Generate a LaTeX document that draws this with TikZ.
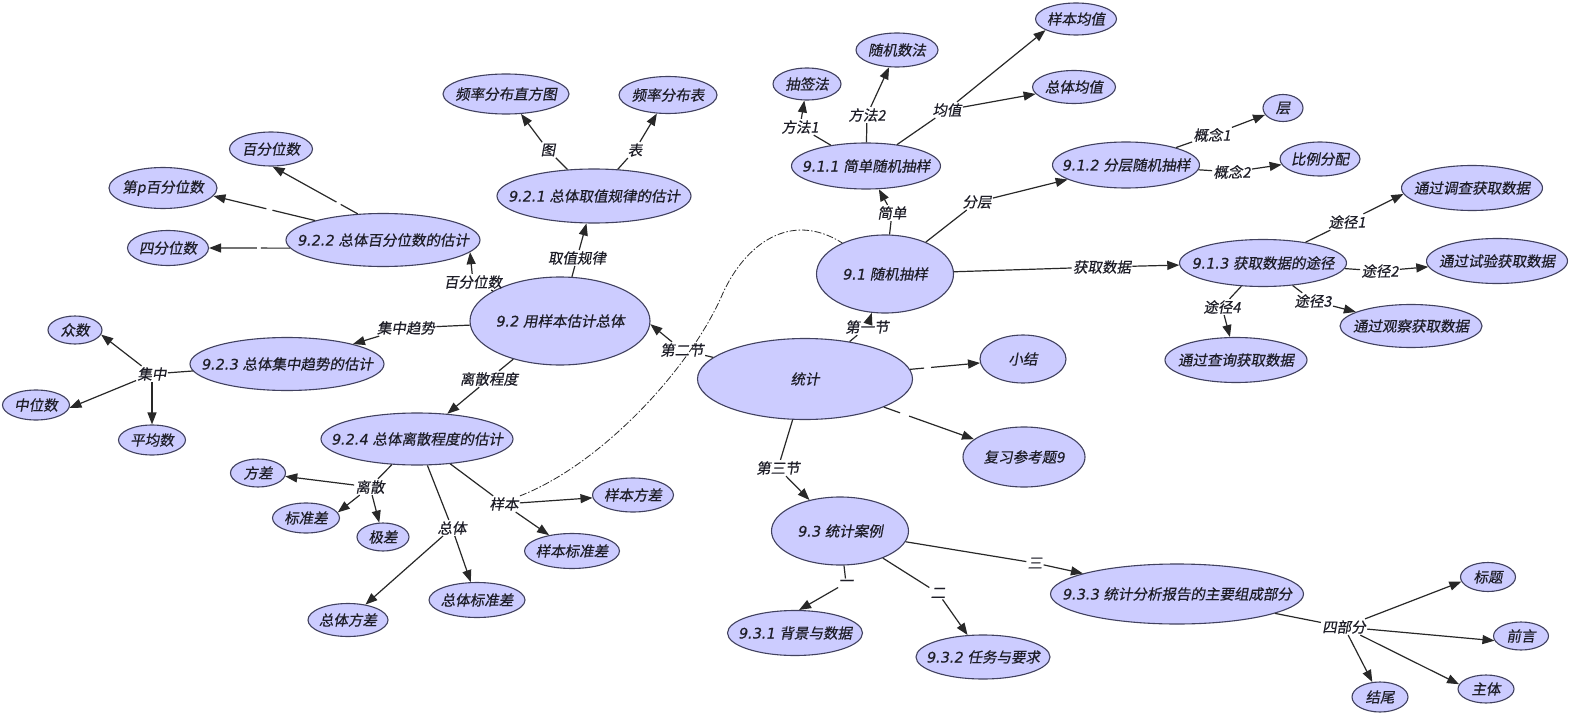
\documentclass[tikz,border=0pt]{standalone}
\usepackage{fontspec}
\setmainfont{Noto Sans CJK SC}[FakeSlant=0.18,FakeBold=0.5]
\newfontfamily\lfont{DejaVu Sans}[FakeSlant=0.18,FakeBold=0.5]
\usetikzlibrary{shapes.geometric,arrows.meta}
\definecolor{nodefill}{RGB}{204,204,255}
\definecolor{nodedraw}{RGB}{65,65,95}
\definecolor{linec}{RGB}{40,40,40}
\definecolor{txtc}{RGB}{30,30,40}
\newcommand\pre[1]{{\lfont #1}}
\tikzset{
 cn/.style={ellipse, draw=nodedraw, fill=nodefill, line width=1.1pt, inner sep=0pt, text=txtc, font=\fontsize{14.5}{17}\selectfont},
 lbl/.style={inner sep=1.2pt, text=txtc, font=\fontsize{14.5}{17}\selectfont},
 ln/.style={draw=linec, line width=1.2pt},
 ar/.style={ln, -{Triangle[length=12pt,width=9pt]}},
 xlink/.style={draw=linec, line width=0.8pt, dash pattern=on 7pt off 2pt on 1.5pt off 2pt},
}
\newcommand\cnode[6]{\node[cn, minimum width=#4pt, minimum height=#5pt] (#1) at (#2,#3) {\makebox[0pt]{#6}};}
\newcommand\lnode[4]{\node[lbl] (#1) at (#2,#3) {#4};}
\begin{document}
\begin{tikzpicture}[x=1pt,y=-1pt]
\fill[white] (0,0) rectangle (1571,714);
\useasboundingbox (0,0) rectangle (1571,714);

% ---------- concept nodes ----------
\cnode{zft}{506}{94}{126}{40}{频率分布直方图}
\cnode{fbb}{668}{95}{98}{37}{频率分布表}
\cnode{n921}{594}{196}{194}{54}{\pre{9.2.1 }总体取值规律的估计}
\cnode{bfw}{271}{149}{83}{34}{百分位数}
\cnode{dip}{163}{188}{108}{41}{第p百分位数}
\cnode{sfw}{168}{248}{81}{35}{四分位数}
\cnode{n922}{383}{240}{194}{53}{\pre{9.2.2 }总体百分位数的估计}
\cnode{n92}{560}{321}{180}{88}{\pre{9.2 }用样本估计总体}
\cnode{zs}{75}{330}{54}{28}{众数}
\cnode{zws}{36}{405}{67}{30}{中位数}
\cnode{pjs}{152}{440}{67}{30}{平均数}
\cnode{n923}{287}{364}{194}{53}{\pre{9.2.3 }总体集中趋势的估计}
\cnode{n924}{417}{439}{192}{52}{\pre{9.2.4 }总体离散程度的估计}
\cnode{fc}{258}{473}{55}{28}{方差}
\cnode{bzc}{306}{518}{67}{30}{标准差}
\cnode{jc}{383}{537}{52}{28}{极差}
\cnode{ztfc}{348}{620}{80}{33}{总体方差}
\cnode{ztbz}{477}{600}{96}{35}{总体标准差}
\cnode{ybfc}{633}{495}{81}{34}{样本方差}
\cnode{ybbz}{572}{551}{95}{35}{样本标准差}
\cnode{ybjz}{1076}{19}{81}{32}{样本均值}
\cnode{sjs}{897}{50}{82}{34}{随机数法}
\cnode{cqf}{807}{84}{68}{32}{抽签法}
\cnode{ztjz}{1074}{87}{83}{33}{总体均值}
\cnode{n911}{866}{166}{149}{46}{\pre{9.1.1 }简单随机抽样}
\cnode{n912}{1126}{165}{147}{46}{\pre{9.1.2 }分层随机抽样}
\cnode{n91}{885}{274}{137}{78}{\pre{9.1 }随机抽样}
\cnode{ceng}{1283}{108}{40}{27}{层}
\cnode{blfp}{1320}{159}{80}{34}{比例分配}
\cnode{dc}{1472}{188}{141}{45}{通过调查获取数据}
\cnode{sy}{1497}{261}{141}{45}{通过试验获取数据}
\cnode{n913}{1263}{263}{167}{47}{\pre{9.1.3 }获取数据的途径}
\cnode{gc}{1411}{326}{142}{43}{通过观察获取数据}
\cnode{cx}{1236}{360}{142}{45}{通过查询获取数据}
\cnode{tj}{805}{379}{215}{81}{统计}
\cnode{xj}{1023}{359}{86}{48}{小结}
\cnode{fx}{1024}{457}{122}{60}{复习参考题9}
\cnode{n93}{840}{531}{137}{68}{\pre{9.3 }统计案例}
\cnode{n931}{795}{633}{135}{45}{\pre{9.3.1 }背景与数据}
\cnode{n932}{983}{657}{134}{44}{\pre{9.3.2 }任务与要求}
\cnode{n933}{1177}{594}{253}{60}{\pre{9.3.3 }统计分析报告的主要组成部分}
\cnode{bt}{1488}{577}{55}{29}{标题}
\cnode{qy}{1521}{636}{55}{28}{前言}
\cnode{zt}{1486}{689}{56}{28}{主体}
\cnode{jw}{1380}{697}{56}{30}{结尾}

% ---------- link labels ----------
\lnode{lt}{548}{150}{图}
\lnode{lb}{635}{150}{表}
\lnode{lqz}{577}{258}{取值规律}
\lnode{lbf}{473}{282}{百分位数}
\lnode{ljq}{406}{328}{集中趋势}
\lnode{llsc}{489}{379}{离散程度}
\lnode{ldej}{682}{350}{第二节}
\lnode{ljz}{152}{374}{集中}
\lnode{lls}{370}{487}{离散}
\lnode{lzt}{452}{528}{总体}
\lnode{lyb}{504}{504}{样本}
\lnode{lff1}{800}{127}{方法1}
\lnode{lff2}{867}{115}{方法2}
\lnode{ljzv}{947}{110}{均值}
\lnode{ljd}{892}{213}{简单}
\lnode{lfc}{977}{202}{分层}
\lnode{lhq}{1102}{267}{获取数据}
\lnode{lgn1}{1212}{135}{概念1}
\lnode{lgn2}{1232}{172}{概念2}
\lnode{ltj1}{1347}{222}{途径1}
\lnode{ltj2}{1380}{271}{途径2}
\lnode{ltj3}{1313}{301}{途径3}
\lnode{ltj4}{1222}{307}{途径4}
\lnode{ldy}{867}{327}{第一节}
\lnode{ldsan}{778}{468}{第三节}
\lnode{ly}{846}{583}{一}
\lnode{le}{938}{593}{二}
\lnode{lsan}{1035}{563}{三}
\lnode{lsb}{1344}{627}{四部分}

% ---------- connectors ----------
% 9.2 branch
\draw[ln] (n921) -- (lt); \draw[ar] (lt) -- (zft);
\draw[ln] (n921) -- (lb); \draw[ar] (lb) -- (fbb);
\draw[ln] (n92) -- (lqz); \draw[ar] (lqz) -- (n921);
\draw[ln] (n92) -- (lbf); \draw[ar] (lbf) -- (n922.-8);
\draw[ln] (n92) -- (ljq); \draw[ar] (ljq) -- (n923);
\draw[ln] (n92) -- (llsc); \draw[ar] (llsc) -- (n924);
\draw[ln] (tj) -- (ldej); \draw[ar] (ldej) -- (n92.-2);

% 9.2.2 links with gaps
\path (n922.134) -- coordinate[pos=0.2] (ga1) coordinate[pos=0.25] (ga2) (bfw.-85);
\draw[ln] (n922.134) -- (ga1); \draw[ar] (ga2) -- (bfw.-85);
\path (n922.164) -- coordinate[pos=0.42] (gb1) coordinate[pos=0.48] (gb2) (dip.-9);
\draw[ln] (n922.164) -- (gb1); \draw[ar] (gb2) -- (dip.-9);
\path (n922.185) -- coordinate[pos=0.36] (gc1) coordinate[pos=0.41] (gc2) (sfw.0);
\draw[ln] (n922.185) -- (gc1); \draw[ar] (gc2) -- (sfw.0);

% 9.2.3
\draw[ln] (n923) -- (ljz);
\draw[ar] (ljz) -- (zs.-10);
\draw[ar] (ljz) -- (zws.-5);
\draw[ar] (ljz) -- (pjs);

% 9.2.4
\draw[ln] (n924) -- (lls);
\draw[ar] (lls) -- (fc);
\draw[ar] (lls) -- (bzc.10);
\draw[ar] (lls) -- (jc);
\draw[ln] (n924) -- (lzt);
\draw[ar] (lzt) -- (ztfc);
\draw[ar] (lzt) -- (ztbz);
\draw[ln] (n924) -- (lyb);
\draw[ar] (lyb) -- (ybfc);
\draw[ar] (lyb) -- (ybbz);

% cross link
\draw[xlink] (lyb.north east) .. controls (600,465) and (690,370) .. (723,293)
  .. controls (745,245) and (790,210) .. (n91.144);

% 9.1 branch
\draw[ln] (n911) -- (lff1); \draw[ar] (lff1) -- (cqf);
\draw[ln] (n911) -- (lff2); \draw[ar] (lff2) -- (sjs);
\draw[ln] (n911) -- (ljzv);
\draw[ar] (ljzv) -- (ybjz.200);
\draw[ar] (ljzv) -- (ztjz);
\draw[ln] (n91) -- (ljd); \draw[ar] (ljd) -- (n911);
\draw[ln] (n91) -- (lfc); \draw[ar] (lfc) -- (n912);
\draw[ln] (n91) -- (lhq); \draw[ar] (lhq) -- (n913);
\draw[ln] (n912) -- (lgn1); \draw[ar] (lgn1) -- (ceng);
\draw[ln] (n912) -- (lgn2); \draw[ar] (lgn2) -- (blfp);
\draw[ln] (n913) -- (ltj1); \draw[ar] (ltj1) -- (dc.185);
\draw[ln] (n913) -- (ltj2); \draw[ar] (ltj2) -- (sy);
\draw[ln] (n913) -- (ltj3); \draw[ar] (ltj3) -- (gc);
\draw[ln] (n913) -- (ltj4); \draw[ar] (ltj4) -- (cx);
\draw[ln] (tj) -- (ldy); \draw[ar] (ldy) -- (n91);

% summary links with gaps
\path (tj) -- coordinate[pos=0.2] (gd1) coordinate[pos=0.3] (gd2) (xj);
\draw[ln] (tj) -- (gd1); \draw[ar] (gd2) -- (xj);
\path (tj) -- coordinate[pos=0.18] (ge1) coordinate[pos=0.28] (ge2) (fx);
\draw[ln] (tj) -- (ge1); \draw[ar] (ge2) -- (fx);

% 9.3 branch
\draw[ln] (tj) -- (ldsan); \draw[ar] (ldsan) -- (n93);
\draw[ln] (n93) -- (ly); \draw[ar] (ly) -- (n931.80);
\draw[ln] (n93) -- (le); \draw[ar] (le) -- (n932);
\draw[ln] (n93) -- (lsan); \draw[ar] (lsan) -- (n933);
\draw[ln] (n933) -- (lsb);
\draw[ar] (lsb) -- (bt.190);
\draw[ar] (lsb) -- (qy.190);
\draw[ar] (lsb) -- (zt.170);
\draw[ar] (lsb) -- (jw);
\end{tikzpicture}
\end{document}
